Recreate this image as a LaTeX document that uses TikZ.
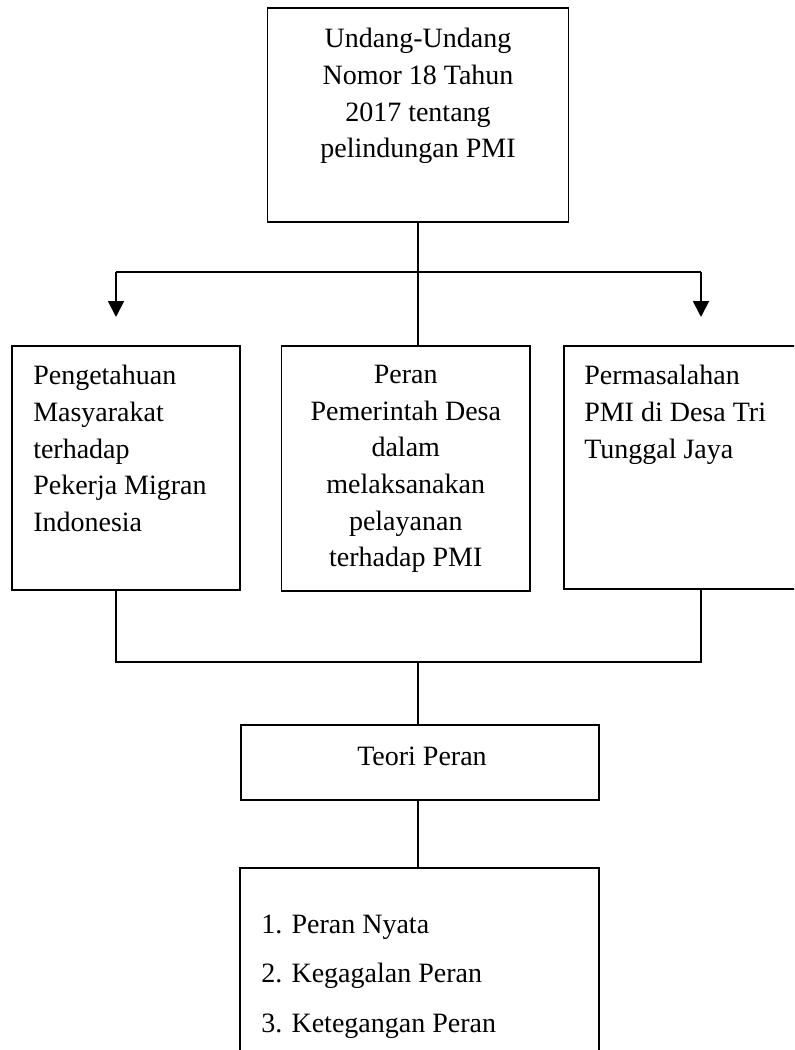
\documentclass[tikz,border=0pt]{standalone}
\usepackage{fontspec}
\setmainfont{Liberation Serif}
\usetikzlibrary{positioning, arrows.meta}

\newcommand{\pxu}{0.75pt}

\begin{document}
\begin{tikzpicture}[
        x=0.75pt, y=-0.75pt,
        box/.style={rectangle, draw=black, line width=1.4pt, inner sep=0pt},
        txt/.style={inner sep=0pt, font=\fontsize{21}{27.5}\selectfont},
        line/.style={draw=black, line width=1.4pt},
        arrow/.style={line, -{Triangle[width=12pt, length=12pt]}}
    ]
        \useasboundingbox (0,0) rectangle (794,1050);
        \clip (0,0) rectangle (794,1050);

        % Law
        \node[box, minimum width=301*\pxu, minimum height=214*\pxu] (law) at (418,115) {};
        \node[txt, align=center, anchor=north] (law-t) at (418,28) {Undang-Undang\\Nomor 18 Tahun\\2017 tentang\\pelindungan PMI};

        % Three boxes
        \node[box, minimum width=228*\pxu, minimum height=244*\pxu] (peng) at (126,468) {};
        \node[txt, align=left, anchor=north west] (peng-t) at (33,365) {Pengetahuan\\Masyarakat\\terhadap\\Pekerja Migran\\Indonesia};

        \node[box, minimum width=248.5*\pxu, minimum height=245*\pxu] (peran) at (405.75,468.5) {};
        \node[txt, align=center, anchor=north] (peran-t) at (405.75,365) {Peran\\Pemerintah Desa\\dalam\\melaksanakan\\pelayanan\\terhadap PMI};

        \node[box, minimum width=250*\pxu, minimum height=243*\pxu] (perm) at (689,467.5) {};
        \node[txt, align=left, anchor=north west] (perm-t) at (584,365) {Permasalahan\\PMI di Desa Tri\\Tunggal Jaya};

        % Theory
        \node[box, minimum width=358*\pxu, minimum height=75*\pxu] (teori) at (420,762.5) {};
        \node[txt, anchor=base] (teori-t) at (422,765) {Teori Peran};

        % List
        \node[box, minimum width=359*\pxu, minimum height=210*\pxu] (list) at (419.5,973) {};
        \node[txt, anchor=base west] (item1) at (261,933) {1. Peran Nyata};
        \node[txt, anchor=base west] (item2) at (261,982) {2. Kegagalan Peran};
        \node[txt, anchor=base west] (item3) at (261,1032) {3. Ketegangan Peran};

        % Split and join points
        \coordinate (splitL) at (116,272);
        \coordinate (splitR) at (701,272);
        \coordinate (tipL) at (116,317);
        \coordinate (tipR) at (701,317);
        \coordinate (joinL) at (116,662);
        \coordinate (joinR) at (701,662);
        \coordinate (joinC) at (418,662);

        % Connections
        \draw[line] (law.south) -- (law.south |- peran.north);
        \draw[line] (splitL) -- (splitR);
        \draw[arrow] (splitL) -- (tipL);
        \draw[arrow] (splitR) -- (tipR);
        \draw[line] (joinL |- peng.south) -- (joinL) -- (joinR) -- (joinR |- perm.south);
        \draw[line] (joinC) -- (joinC |- teori.north);
        \draw[line] (joinC |- teori.south) -- (joinC |- list.north);
    \end{tikzpicture}
\end{document}
